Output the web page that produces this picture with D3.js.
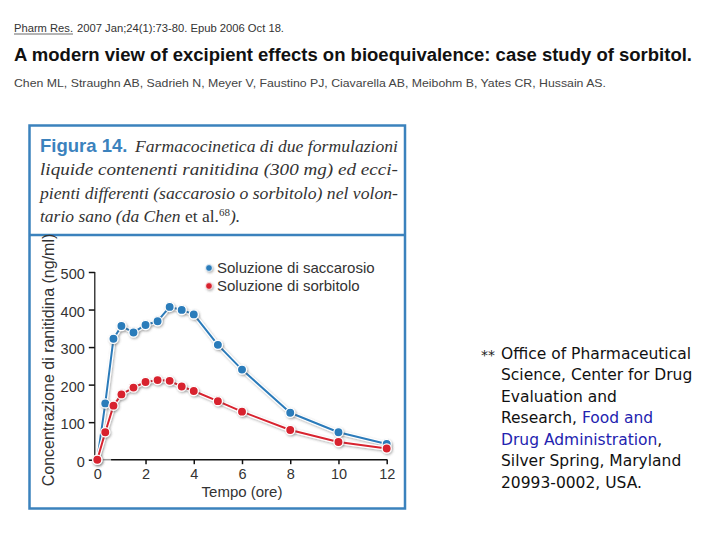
<!DOCTYPE html>
<html>
<head>
<meta charset="utf-8">
<script src="https://cdn.jsdelivr.net/npm/d3@7"></script>
<style>
  body { margin: 0; background: #fff; }
  svg { display: block; }
</style>
</head>
<body>
<script>
// ---- data ----
const times = [0, 0.33, 0.67, 1, 1.5, 2, 2.5, 3, 3.5, 4, 5, 6, 8, 10, 12];
const saccarosio = [0, 150, 322, 356, 339, 359, 369, 407, 399, 387, 306, 240, 125, 73, 42];
const sorbitolo = [0, 73, 144, 174, 192, 207, 212, 210, 195, 183, 156, 128, 79, 47, 30];
const seriesNames = ["Soluzione di saccarosio", "Soluzione di sorbitolo"];
const xTicks = [0, 2, 4, 6, 8, 10, 12];
const yTicks = [0, 100, 200, 300, 400, 500];
const xTitle = "Tempo (ore)";
const yTitle = "Concentrazione di ranitidina (ng/ml)";

const headerLine = ["Pharm Res.", "2007 Jan;24(1):73-80. Epub 2006 Oct 18."];
const articleTitle = "A modern view of excipient effects on bioequivalence: case study of sorbitol.";
const authors = "Chen ML, Straughn AB, Sadrieh N, Meyer V, Faustino PJ, Ciavarella AB, Meibohm B, Yates CR, Hussain AS.";
const captionLines = [
  "Farmacocinetica di due formulazioni",
  "liquide contenenti ranitidina (300 mg) ed ecci-",
  "pienti differenti (saccarosio o sorbitolo) nel volon-"
];
const noteLines = [
  "Office of Pharmaceutical",
  "Science, Center for Drug",
  "Evaluation and",
  "Research, ",
  "Drug Administration",
  "Silver Spring, Maryland",
  "20993-0002, USA."
];

const BLUE = "#2b7bba", RED = "#d8232f", FRAME = "#3b82bd";

const svg = d3.select("body").append("svg").attr("width", 720).attr("height", 540);
const defs = svg.append("defs");
const f = defs.append("filter").attr("id", "sh").attr("x", "-50%").attr("y", "-50%").attr("width", "200%").attr("height", "200%");
f.append("feDropShadow").attr("dx", 1).attr("dy", 1.2).attr("stdDeviation", 1.1)
  .attr("flood-color", "#555").attr("flood-opacity", 0.45);

// ---- header ----
const sans = "'Liberation Sans', Arial, sans-serif";
svg.append("text").attr("x", 14).attr("y", 32).attr("font-family", sans).attr("font-size", 11)
  .attr("fill", "#333").attr("textLength", 59).attr("lengthAdjust", "spacingAndGlyphs").text(headerLine[0]);
svg.append("line").attr("x1", 14).attr("x2", 73).attr("y1", 34).attr("y2", 34).attr("stroke", "#444").attr("stroke-width", 0.8);
svg.append("text").attr("x", 77).attr("y", 32).attr("font-family", sans).attr("font-size", 11)
  .attr("fill", "#333").attr("textLength", 207).attr("lengthAdjust", "spacingAndGlyphs").text(headerLine[1]);
svg.append("text").attr("x", 14).attr("y", 61).attr("font-family", sans).attr("font-size", 17.5)
  .attr("font-weight", "bold").attr("fill", "#111").attr("textLength", 678).attr("lengthAdjust", "spacingAndGlyphs").text(articleTitle);
svg.append("text").attr("x", 14).attr("y", 87).attr("font-family", sans).attr("font-size", 11.5)
  .attr("fill", "#444").attr("textLength", 592).attr("lengthAdjust", "spacingAndGlyphs").text(authors);

// ---- frame ----
svg.append("rect").attr("x", 29.5).attr("y", 125.5).attr("width", 375.5).attr("height", 383)
  .attr("fill", "#fff").attr("stroke", FRAME).attr("stroke-width", 2.5);
svg.append("line").attr("x1", 29.5).attr("x2", 405).attr("y1", 235).attr("y2", 235)
  .attr("stroke", FRAME).attr("stroke-width", 2.5);

// ---- caption ----
const serif = "'Liberation Serif', 'Times New Roman', serif";
svg.append("text").attr("x", 40).attr("y", 151.5).attr("font-family", sans).attr("font-size", 18.5)
  .attr("font-weight", "bold").attr("fill", FRAME).text("Figura 14.");
const capY = [151.5, 175, 198.5];
const capX = [135, 40, 40];
captionLines.forEach((t, i) => {
  svg.append("text").attr("x", capX[i]).attr("y", capY[i]).attr("font-family", serif).attr("font-size", 17.5)
    .attr("font-style", "italic").attr("fill", "#333").attr("textLength", 398 - capX[i])
    .attr("lengthAdjust", "spacingAndGlyphs").text(t);
});
const l4 = svg.append("text").attr("x", 40).attr("y", 222).attr("font-family", serif).attr("font-size", 17.5).attr("fill", "#333");
l4.append("tspan").attr("font-style", "italic").text("tario sano (da Chen ");
l4.append("tspan").text("et al.");
l4.append("tspan").attr("font-size", 11).attr("dy", -6).text("68");
l4.append("tspan").attr("font-style", "italic").attr("dy", 6).text(").");

// ---- chart ----
const x = d3.scaleLinear().domain([0, 12]).range([97.3, 386.7]);
const y = d3.scaleLinear().domain([0, 500]).range([459.7, 272]);
const tickFont = 14.5;

// x axis
const xa = svg.append("g").attr("transform", `translate(0,${y(0)})`)
  .call(d3.axisBottom(x).tickValues(xTicks).tickSize(4.5).tickPadding(5).tickSizeOuter(0));
xa.select(".domain").remove();
xa.selectAll(".tick line").attr("stroke", "#111").attr("stroke-width", 1.5)
  .filter(d => d === 0).remove();
xa.selectAll(".tick text").attr("font-family", sans).attr("font-size", tickFont).attr("fill", "#333");
svg.append("line").attr("x1", x(0)).attr("x2", x(0.57)).attr("y1", y(0)).attr("y2", y(0))
  .attr("stroke", "#999").attr("stroke-width", 1.5);
svg.append("line").attr("x1", x(0.57)).attr("x2", x(12) + 0.7).attr("y1", y(0)).attr("y2", y(0))
  .attr("stroke", "#111").attr("stroke-width", 1.5);

// y axis
const spineX = x(0) - 2.5;
const ya = svg.append("g").attr("transform", `translate(${spineX},0)`)
  .call(d3.axisLeft(y).tickValues(yTicks).tickSize(6).tickPadding(4).tickSizeOuter(0));
ya.select(".domain").remove();
ya.selectAll(".tick line").attr("stroke", "#111").attr("stroke-width", 1.5);
ya.selectAll(".tick text").attr("font-family", sans).attr("font-size", tickFont).attr("fill", "#333").attr("dy", "0.45em");
svg.append("line").attr("x1", spineX).attr("x2", spineX).attr("y1", y(500)).attr("y2", y(0))
  .attr("stroke", "#111").attr("stroke-width", 1.2);

// axis titles
svg.append("text").attr("x", (x(0) + x(12)) / 2).attr("y", 497).attr("text-anchor", "middle")
  .attr("font-family", sans).attr("font-size", 15).attr("fill", "#333").text(xTitle);
svg.append("text").attr("transform", `translate(54,360) rotate(-90)`).attr("text-anchor", "middle")
  .attr("font-family", sans).attr("font-size", 16).attr("fill", "#333").text(yTitle);

// series
const series = [
  { name: seriesNames[0], values: saccarosio, color: BLUE },
  { name: seriesNames[1], values: sorbitolo, color: RED }
];
const line = d3.line().x((d, i) => x(times[i])).y(d => y(d));
series.forEach(s => {
  const g = svg.append("g");
  g.append("path").attr("d", line(s.values)).attr("fill", "none").attr("stroke", "#fff")
    .attr("stroke-width", 4.5).attr("filter", "url(#sh)").attr("stroke-linejoin", "round");
  g.append("path").attr("d", line(s.values)).attr("fill", "none").attr("stroke", s.color)
    .attr("stroke-width", 2).attr("stroke-linejoin", "round");
  g.selectAll("circle").data(s.values).join("circle")
    .attr("cx", (d, i) => x(times[i])).attr("cy", d => y(d)).attr("r", 4.6)
    .attr("fill", s.color).attr("stroke", "#fff").attr("stroke-width", 1.3).attr("filter", "url(#sh)");
});

// legend
series.forEach((s, i) => {
  const ly = 268 + i * 18;
  svg.append("circle").attr("cx", 209).attr("cy", ly).attr("r", 3.4).attr("fill", s.color)
    .attr("stroke", "#fff").attr("stroke-width", 0.8).attr("filter", "url(#sh)");
  svg.append("text").attr("x", 217).attr("y", ly + 5.2).attr("font-family", sans).attr("font-size", 15)
    .attr("fill", "#333").text(s.name);
});

// ---- note text ----
const note = "'DejaVu Sans', Verdana, sans-serif";
const noteY = [358.5, 380, 401.5, 423, 444.5, 466, 487.5];
svg.append("text").attr("x", 481).attr("y", 360).attr("font-family", note).attr("font-size", 14).attr("fill", "#222").text("**");
noteLines.forEach((t, i) => {
  const tx = svg.append("text").attr("x", 501).attr("y", noteY[i]).attr("font-family", note)
    .attr("font-size", 15.5).attr("fill", "#111");
  if (i === 3) {
    tx.append("tspan").text(t);
    tx.append("tspan").attr("fill", "#2323b0").text("Food and");
  } else if (i === 4) {
    tx.append("tspan").attr("fill", "#2323b0").text(t);
    tx.append("tspan").text(",");
  } else {
    tx.text(t);
  }
});
</script>
</body>
</html>
